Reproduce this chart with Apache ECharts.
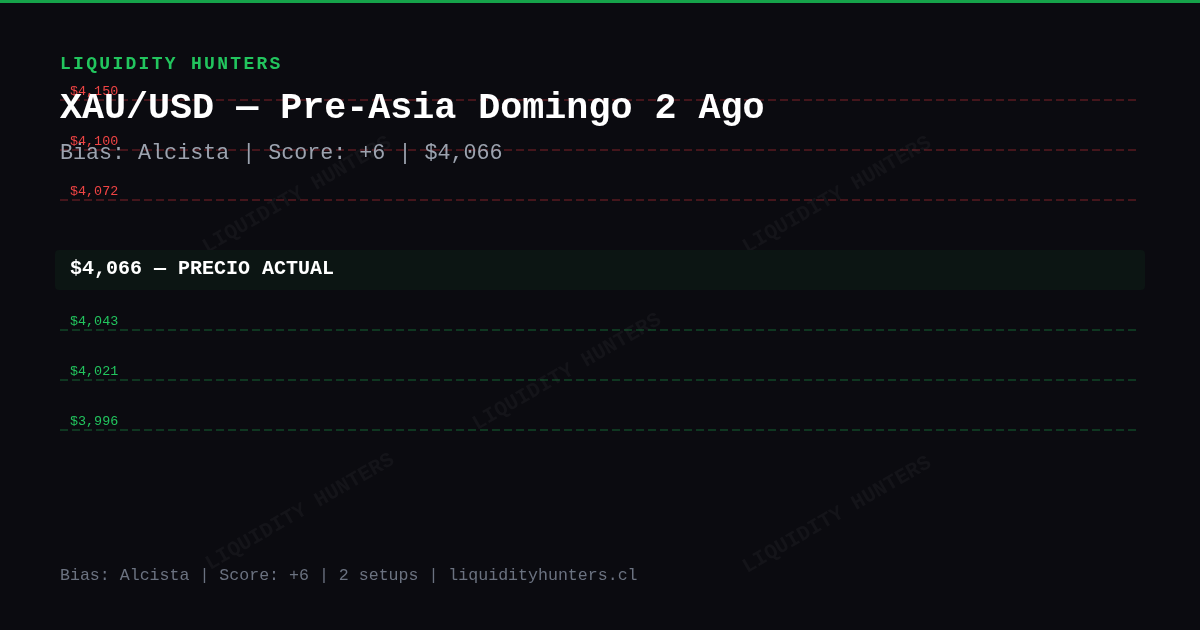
<!DOCTYPE html>
<html>
<head>
<meta charset="utf-8">
<script src="https://cdn.jsdelivr.net/npm/echarts@6/dist/echarts.min.js"></script>
<style>
  html, body { margin: 0; padding: 0; background: #0b0b10; }
  #main { width: 1200px; height: 630px; }
</style>
</head>
<body>
<div id="main"></div>
<script>
var brand = 'LIQUIDITY HUNTERS';
var pair = 'XAU/USD';
var session = 'Pre-Asia Domingo 2 Ago';
var bias = 'Alcista';
var score = '+6';
var setups = 2;
var site = 'liquidityhunters.cl';

var resistances = [4150, 4100, 4072];
var currentPrice = 4066;
var supports = [4043, 4021, 3996];

var MONO = '"Liberation Mono", "DejaVu Sans Mono", monospace';

function fmt(v) {
  return '$' + v.toLocaleString('en-US');
}

// letter-spaced brand line: one rich token per character
function spaced(str) {
  return str.split('').map((c) => '{c|' + c + '}').join('');
}

function levelRenderer(stroke, fill) {
  return function (params, api) {
    var y = api.coord([0, api.value(1)])[1];
    var x0 = params.coordSys.x;
    var x1 = x0 + params.coordSys.width;
    return {
      type: 'group',
      children: [
        {
          type: 'line',
          shape: { x1: x0, y1: y, x2: x1, y2: y },
          style: { stroke: stroke, lineWidth: 1.6, lineDash: [8, 4] }
        },
        {
          type: 'text',
          style: {
            text: fmt(api.value(2)),
            x: x0 + 10,
            y: y - 9,
            fill: fill,
            font: '13.4px ' + MONO,
            textAlign: 'left',
            textVerticalAlign: 'middle'
          }
        }
      ]
    };
  };
}

setTimeout(() => {
  var chartDom = document.getElementById('main');
  var myChart = echarts.init(chartDom);

  var watermarkSpots = [[297, 195], [837, 195], [567, 372], [300, 512], [837, 515]];

  var option = {
    backgroundColor: '#0b0b10',
    animation: false,
    grid: [
      { left: 60, right: 64, top: 75, height: 150 },
      { left: 55, right: 55, top: 250, height: 40 },
      { left: 60, right: 64, top: 305, height: 150 }
    ],
    xAxis: [0, 1, 2].map((i) => ({
      type: 'value', gridIndex: i, min: 0, max: 1, show: false
    })),
    yAxis: [
      { type: 'category', gridIndex: 0, inverse: true, show: false, data: resistances.map(fmt) },
      { type: 'category', gridIndex: 1, inverse: true, show: false, data: [fmt(currentPrice)] },
      { type: 'category', gridIndex: 2, inverse: true, show: false, data: supports.map(fmt) }
    ],
    graphic: [
      {
        type: 'rect', z: 100,
        shape: { x: 0, y: 0, width: 1200, height: 3 },
        style: { fill: '#16a34a' }
      }
    ].concat(watermarkSpots.map((p) => ({
      type: 'text', z: 1, x: p[0], y: p[1], rotation: Math.PI / 6,
      style: {
        text: brand, fill: 'rgba(255,255,255,0.04)',
        font: 'bold 21px ' + MONO, textAlign: 'center', textVerticalAlign: 'middle'
      }
    }))).concat([
      {
        type: 'text', z: 100, x: 60, y: 64,
        style: {
          text: spaced(brand),
          textVerticalAlign: 'middle',
          rich: {
            c: {
              width: 13.1, align: 'left', fill: '#22c55e',
              fontFamily: MONO, fontWeight: 'bold', fontSize: 18
            }
          }
        }
      },
      {
        type: 'text', z: 100, x: 60, y: 109,
        style: {
          text: pair + ' \u2014 ' + session, fill: '#ffffff',
          font: 'bold 36.7px ' + MONO, textVerticalAlign: 'middle'
        }
      },
      {
        type: 'text', z: 100, x: 60, y: 153,
        style: {
          text: 'Bias: ' + bias + ' | Score: ' + score + ' | ' + fmt(currentPrice),
          fill: '#9ca3af', font: '21.7px ' + MONO, textVerticalAlign: 'middle'
        }
      },
      {
        type: 'text', z: 100, x: 60, y: 576,
        style: {
          text: 'Bias: ' + bias + ' | Score: ' + score + ' | ' + setups + ' setups | ' + site,
          fill: '#6b7280', font: '16.6px ' + MONO, textVerticalAlign: 'middle'
        }
      }
    ]),
    series: [
      {
        type: 'custom',
        xAxisIndex: 0, yAxisIndex: 0,
        data: resistances.map((v, i) => [0, i, v]),
        renderItem: levelRenderer('rgba(185,45,55,0.45)', '#ef4444'),
        silent: true
      },
      {
        type: 'custom',
        xAxisIndex: 1, yAxisIndex: 1,
        data: [[0, 0, currentPrice]],
        renderItem: function (params, api) {
          var c = api.coord([0, api.value(1)]);
          var h = api.size([0, 1])[1];
          var x0 = params.coordSys.x;
          return {
            type: 'group',
            children: [
              {
                type: 'rect',
                shape: { x: x0, y: c[1] - h / 2, width: params.coordSys.width, height: h, r: 4 },
                style: { fill: '#0c1513' }
              },
              {
                type: 'text',
                style: {
                  text: fmt(api.value(2)) + ' \u2014 PRECIO ACTUAL',
                  x: x0 + 15, y: c[1] - 1,
                  fill: '#ffffff',
                  font: 'bold 20px ' + MONO,
                  textVerticalAlign: 'middle'
                }
              }
            ]
          };
        },
        silent: true
      },
      {
        type: 'custom',
        xAxisIndex: 2, yAxisIndex: 2,
        data: supports.map((v, i) => [0, i, v]),
        renderItem: levelRenderer('rgba(22,120,60,0.55)', '#22c55e'),
        silent: true
      }
    ]
  };

  option && myChart.setOption(option);

  window.onresize = function () {
    myChart.resize();
  };
}, 1);
</script>
</body>
</html>
